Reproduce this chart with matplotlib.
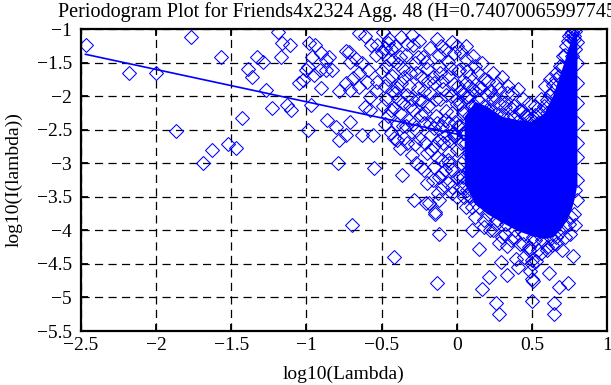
import matplotlib
matplotlib.use("Agg")
import matplotlib.pyplot as plt
from matplotlib.ticker import FixedLocator, FixedFormatter

# ---------------- data ----------------
title = "Periodogram Plot for Friends4x2324 Agg. 48 (H=0.740700659977456)"
x_label = "log10(Lambda)"
y_label = "log10(I(lambda))"
x_ticks = [-2.5, -2, -1.5, -1, -0.5, 0, 0.5, 1]
y_ticks = [-1, -1.5, -2, -2.5, -3, -3.5, -4, -4.5, -5, -5.5]

# least squares fit line (slope = 1 - 2H)
fit_slope = -0.4814
fit_intercept = -2.566
fit_x = [-2.47, 0.30]

# sparse low-frequency points
sparse_x = [-2.47, -2.18, -2.00, -1.87, -1.77, -1.69, -1.63, -1.57, -1.52, -1.47,
            -1.43, -1.39, -1.36, -1.33, -1.29, -1.19, -1.16, -1.11, -1.17, -1.27,
            -1.23, -1.13, -1.10, -0.98, -0.96, -0.90, -0.97, -0.99, -0.79, -0.55,
            -0.70, -0.90, -0.87, -0.83, -0.91, -1.00, -1.02, -1.05, -0.99, -0.94,
            -0.85, -0.74, -0.72, -0.71, -0.67, -0.63, -0.59, -0.65, -0.69, -0.74,
            -0.78, -0.71, -0.65, -0.60, -0.58, -0.54, -0.53, -0.61, -0.86, -0.80,
            -0.71, -0.74, -0.78, -0.63, -0.56, -0.58, -0.53, -0.57, -0.65, -0.61,
            -0.54, -0.50, -0.87, -0.95]
sparse_y = [-1.24, -1.65, -1.65, -2.52, -1.12, -2.99, -2.80, -1.41, -2.72, -2.78,
            -2.32, -1.59, -1.71, -1.41, -1.49, -1.04, -1.21, -1.24, -1.41, -1.91,
            -2.18, -2.13, -2.21, -1.21, -1.41, -1.88, -2.13, -2.51, -2.99, -3.07,
            -3.92, -1.36, -1.46, -1.61, -1.61, -1.61, -1.76, -1.81, -1.56, -1.24,
            -1.41, -1.33, -1.34, -1.49, -1.44, -1.51, -1.61, -1.66, -1.73, -1.81,
            -1.93, -1.91, -1.86, -1.79, -2.01, -1.93, -1.79, -2.16, -2.36, -2.46,
            -2.38, -2.58, -2.65, -2.58, -2.58, -2.21, -1.24, -1.24, -1.06, -1.11,
            -1.39, -1.34, -1.61, -1.69]

# mid-frequency points
mid_x = [-0.50, -0.48, -0.47, -0.46, -0.45, -0.44, -0.43, -0.42, -0.41, -0.40,
         -0.39, -0.38, -0.37, -0.36, -0.35, -0.34, -0.33, -0.32, -0.31, -0.30,
         -0.29, -0.28, -0.27, -0.26, -0.25, -0.24, -0.23, -0.22, -0.21, -0.20,
         -0.19, -0.18, -0.17, -0.16, -0.15, -0.14, -0.13, -0.12, -0.11, -0.10,
         -0.09, -0.08, -0.07, -0.06, -0.05, -0.04, -0.03, -0.02, -0.01, 0.00,
         0.01, 0.02, 0.03, 0.04, 0.05,
         -0.49, -0.46, -0.44, -0.42, -0.40, -0.38, -0.36, -0.34, -0.32, -0.30,
         -0.28, -0.26, -0.24, -0.22, -0.20, -0.18, -0.16, -0.14, -0.12, -0.10,
         -0.08, -0.06, -0.04, -0.02, 0.00, 0.02, 0.04, 0.06, 0.08, 0.10,
         -0.30, -0.29, -0.105, -0.116, -0.227, -0.205, -0.38, -0.426, -0.46, -0.48,
         -0.017, -0.06, 0.00, 0.017,
         -0.364, -0.287, -0.183, -0.145, -0.127, -0.116, -0.42, -0.134,
         -0.27, -0.22, -0.15, -0.10, -0.20, -0.10, -0.05, 0.00, 0.05, 0.08,
         -0.15, 0.10, -0.02, 0.06, -0.205, -0.116, -0.03, 0.083,
         -0.49, -0.45, -0.41, -0.37, -0.33, -0.25, -0.18, -0.13, -0.08, -0.03, 0.03,
         -0.47, -0.43, -0.39, -0.35, -0.31, -0.27, -0.23, -0.19, -0.15, -0.11,
         -0.07, -0.03, 0.01, 0.05,
         -0.48, -0.44, -0.40, -0.36, -0.33, -0.29, -0.25, -0.21, -0.17, -0.13,
         -0.09, -0.05, -0.01]
mid_y = [-1.62, -1.85, -2.05, -2.30, -1.45, -2.55, -1.70, -2.18, -1.95, -2.42,
         -1.52, -2.78, -1.80, -2.10, -2.62, -1.38, -1.98, -2.35, -1.66, -2.88,
         -2.20, -1.50, -2.50, -1.88, -2.05, -3.05, -1.72, -2.40, -2.70, -1.60,
         -2.15, -1.95, -2.58, -3.25, -1.80, -2.30, -2.90, -1.55, -2.05, -2.45,
         -1.90, -3.10, -2.22, -1.70, -2.65, -2.00, -3.35, -1.82, -2.38, -2.80,
         -1.62, -2.12, -3.00, -1.95, -2.55,
         -2.15, -1.75, -1.30, -2.62, -1.88, -2.25, -1.60, -2.45, -1.85, -2.05,
         -2.72, -1.42, -2.28, -1.92, -2.85, -2.42, -1.72, -2.05, -2.65, -1.78,
         -2.35, -2.95, -1.58, -2.55, -2.05, -2.45, -3.20, -1.80, -2.30, -2.70,
         -1.09, -1.24, -1.26, -1.39, -1.41, -1.49, -1.41, -1.46, -1.21, -1.29,
         -1.36, -1.49, -1.26, -1.61,
         -3.18, -3.55, -3.60, -3.75, -3.45, -4.05, -4.39, -4.78,
         -3.00, -3.10, -3.05, -3.15, -3.30, -3.35, -3.00, -3.20, -3.30, -3.10,
         -2.75, -2.90, -2.60, -2.70, -3.60, -3.55, -3.45, -3.47,
         -1.05, -1.15, -1.25, -1.12, -1.22, -1.18, -1.28, -1.15, -1.32, -1.20, -1.35,
         -1.55, -1.92, -2.05, -1.72, -2.15, -1.65, -2.08, -1.78, -2.48, -1.65,
         -1.98, -2.25, -1.85, -2.22,
         -2.42, -2.20, -2.65, -2.45, -2.70, -2.42, -2.62, -2.25, -2.80, -2.40,
         -2.70, -2.40, -2.60]

# high-frequency points around the dense cloud
high_x = [0.06, 0.09, 0.12, 0.15, 0.18, 0.22, 0.25, 0.28, 0.32, 0.335,
          0.38, 0.42, 0.46, 0.50, 0.55, 0.60, 0.63, 0.66, 0.69, 0.71,
          0.73, 0.75, 0.77, 0.78, 0.79, 0.08, 0.12, 0.20, 0.07, 0.10,
          0.78, 0.79,
          -0.143, 0.15, 0.216, 0.167, 0.264, 0.282, 0.499, 0.504, 0.504, 0.647,
          0.647, 0.743, 0.68, 0.774, 0.614, 0.337, 0.293, 0.393, 0.282, 0.337,
          0.79, 0.752, 0.636, 0.70, 0.56, 0.105,
          0.05, 0.10, 0.18, 0.22, 0.26, 0.32, 0.38, 0.44, 0.48, 0.52,
          0.50, 0.55, 0.60, 0.66, 0.72, 0.76, 0.45, 0.41, 0.49, 0.53, 0.51,
          0.06, 0.11, 0.14, 0.17, 0.21, 0.24, 0.27, 0.30, 0.34, 0.37,
          0.41, 0.44, 0.48, 0.52, 0.56, 0.59, 0.62, 0.66]
high_y = [-1.45, -1.70, -1.55, -1.86, -1.75, -1.93, -2.00, -1.90, -2.10, -1.96,
          -2.15, -2.20, -2.30, -2.35, -2.25, -2.06, -1.95, -1.75, -1.55, -1.40,
          -1.25, -1.10, -1.05, -1.15, -1.30, -2.00, -2.15, -2.20, -1.62, -1.90,
          -1.00, -1.03,
          -3.72, -4.28, -4.70, -4.88, -5.08, -5.25, -5.05, -4.72, -4.44, -5.08,
          -5.25, -4.78, -4.84, -4.38, -4.64, -4.67, -4.47, -4.42, -4.19, -4.23,
          -3.92, -4.06, -4.22, -4.29, -4.34, -4.00,
          -3.50, -3.65, -3.85, -4.00, -3.90, -4.05, -4.10, -4.20, -4.30, -4.15,
          -4.50, -4.05, -4.30, -4.10, -3.95, -3.80, -4.40, -4.55, -4.60, -4.45, -4.75,
          -1.25, -1.40, -1.65, -1.50, -1.78, -1.65, -1.80, -1.72, -1.85, -1.95,
          -1.90, -2.05, -2.10, -2.15, -2.05, -1.85, -1.75, -1.65]

# markers crowding the edges of the dense cloud
edge_x = [0.00, 0.02, 0.04, 0.06, 0.08, 0.10, 0.12, 0.14, 0.16, 0.18,
          0.20, 0.22, 0.24, 0.26, 0.28, 0.30, 0.32, 0.34, 0.36, 0.38,
          0.40, 0.42, 0.44, 0.46, 0.48, 0.50, 0.52, 0.54, 0.56, 0.58,
          0.60, 0.62, 0.64, 0.66, 0.68, 0.70, 0.72, 0.74, 0.76,
          0.00, 0.03, 0.06, 0.09, 0.12, 0.15, 0.18, 0.21, 0.24, 0.27,
          0.30, 0.33, 0.36, 0.39, 0.42, 0.45, 0.48, 0.51, 0.54, 0.57,
          0.60, 0.63, 0.66, 0.69, 0.72, 0.75, 0.78, 0.80, 0.80, 0.80,
          -0.08, -0.05, -0.03, -0.06, 0.01, 0.03, 0.05, 0.02, 0.07, -0.10,
          -0.12, 0.04, 0.08, 0.09,
          0.80, 0.80, 0.80, 0.80, 0.80, 0.80, 0.79, 0.78, 0.77]
edge_y = [-2.12, -1.92, -2.25, -2.02, -1.85, -2.15, -1.92, -2.06, -1.88, -2.14,
          -1.98, -2.20, -2.04, -2.26, -2.10, -2.30, -2.16, -2.34, -2.18, -2.30,
          -2.38, -2.22, -2.42, -2.28, -2.36, -2.44, -2.28, -2.40, -2.22, -2.14,
          -2.25, -1.98, -1.84, -2.02, -1.70, -1.56, -1.38, -1.18, -1.08,
          -3.50, -3.35, -3.65, -3.50, -3.80, -3.65, -3.95, -3.75, -4.00, -3.85,
          -4.10, -3.90, -4.15, -4.00, -4.20, -4.05, -4.25, -4.10, -4.30, -4.15,
          -4.25, -4.12, -4.20, -4.02, -4.10, -3.90, -3.75, -3.55, -3.25, -2.90,
          -2.60, -2.85, -3.10, -3.30, -2.45, -2.70, -2.95, -3.20, -3.40, -2.95,
          -3.20, -2.55, -2.85, -3.15,
          -1.20, -1.50, -1.80, -2.10, -2.40, -2.70, -3.40, -1.10, -1.40]

# outline of the saturated (solid) cloud of overlapping markers
dense_x = [0.05, 0.12, 0.20, 0.30, 0.40, 0.50, 0.58, 0.64, 0.69, 0.73, 0.76, 0.785, 0.80]
dense_upper = [-2.3, -2.08, -2.15, -2.3, -2.35, -2.38, -2.25, -1.98, -1.65, -1.38, -1.15, -1.0, -1.15]
dense_lower = [-3.3, -3.6, -3.75, -3.88, -4.0, -4.08, -4.12, -4.1, -3.98, -3.85, -3.7, -3.5, -3.3]

# ---------------- drawing ----------------
FONT = "Liberation Serif"
BLUE = "#0000ff"
W, H = 611, 385

fig = plt.figure(figsize=(W / 100, H / 100), dpi=100)
ax = fig.add_axes([81 / W, 1 - 331 / H, (607 - 81) / W, (331 - 29) / H])

ax.grid(True, color="black", linestyle=(0, (6.5, 4.3)), linewidth=0.9, zorder=0)
ax.set_axisbelow(True)

ax.fill_between(dense_x, dense_lower, dense_upper, color=BLUE, linewidth=0, zorder=2)

mk = dict(linestyle="none", marker="D", markersize=7, markerfacecolor="none",
          markeredgecolor=BLUE, markeredgewidth=0.75, zorder=3)
ax.plot(sparse_x, sparse_y, **mk)
ax.plot(mid_x, mid_y, **mk)
ax.plot(high_x, high_y, **mk)
ax.plot(edge_x, edge_y, **mk)

fit_y = [fit_intercept + fit_slope * v for v in fit_x]
ax.plot(fit_x, fit_y, color=BLUE, linewidth=1.2, zorder=4)

ax.set_xlim(-2.5, 1)
ax.set_ylim(-5.5, -1)

def fmt(v):
    s = "{:g}".format(v)
    return s.replace("-", "\u2212")

ax.xaxis.set_major_locator(FixedLocator(x_ticks))
ax.xaxis.set_major_formatter(FixedFormatter([fmt(v) for v in x_ticks]))
ax.yaxis.set_major_locator(FixedLocator(y_ticks))
ax.yaxis.set_major_formatter(FixedFormatter([fmt(v) for v in y_ticks]))

ax.tick_params(axis="both", which="major", direction="in", length=5, width=1.3,
               top=True, right=True, labelsize=14, colors="black")
ax.tick_params(axis="x", pad=4)
ax.tick_params(axis="y", pad=6.5)
for lab in ax.get_xticklabels() + ax.get_yticklabels():
    lab.set_fontfamily(FONT)

for sp in ax.spines.values():
    sp.set_linewidth(1.6)
    sp.set_color("black")
    sp.set_zorder(5)

fig.text(58 / W, 1 - 12 / H, title, fontsize=14.5, family=FONT, ha="left", va="center")
fig.text(344 / W, 1 - 374 / H, x_label, fontsize=14, family=FONT, ha="center", va="center")
fig.text(14 / W, 1 - 180 / H, y_label, fontsize=14, family=FONT, ha="center", va="center",
         rotation=90)

fig.savefig("out.png", dpi=100)
